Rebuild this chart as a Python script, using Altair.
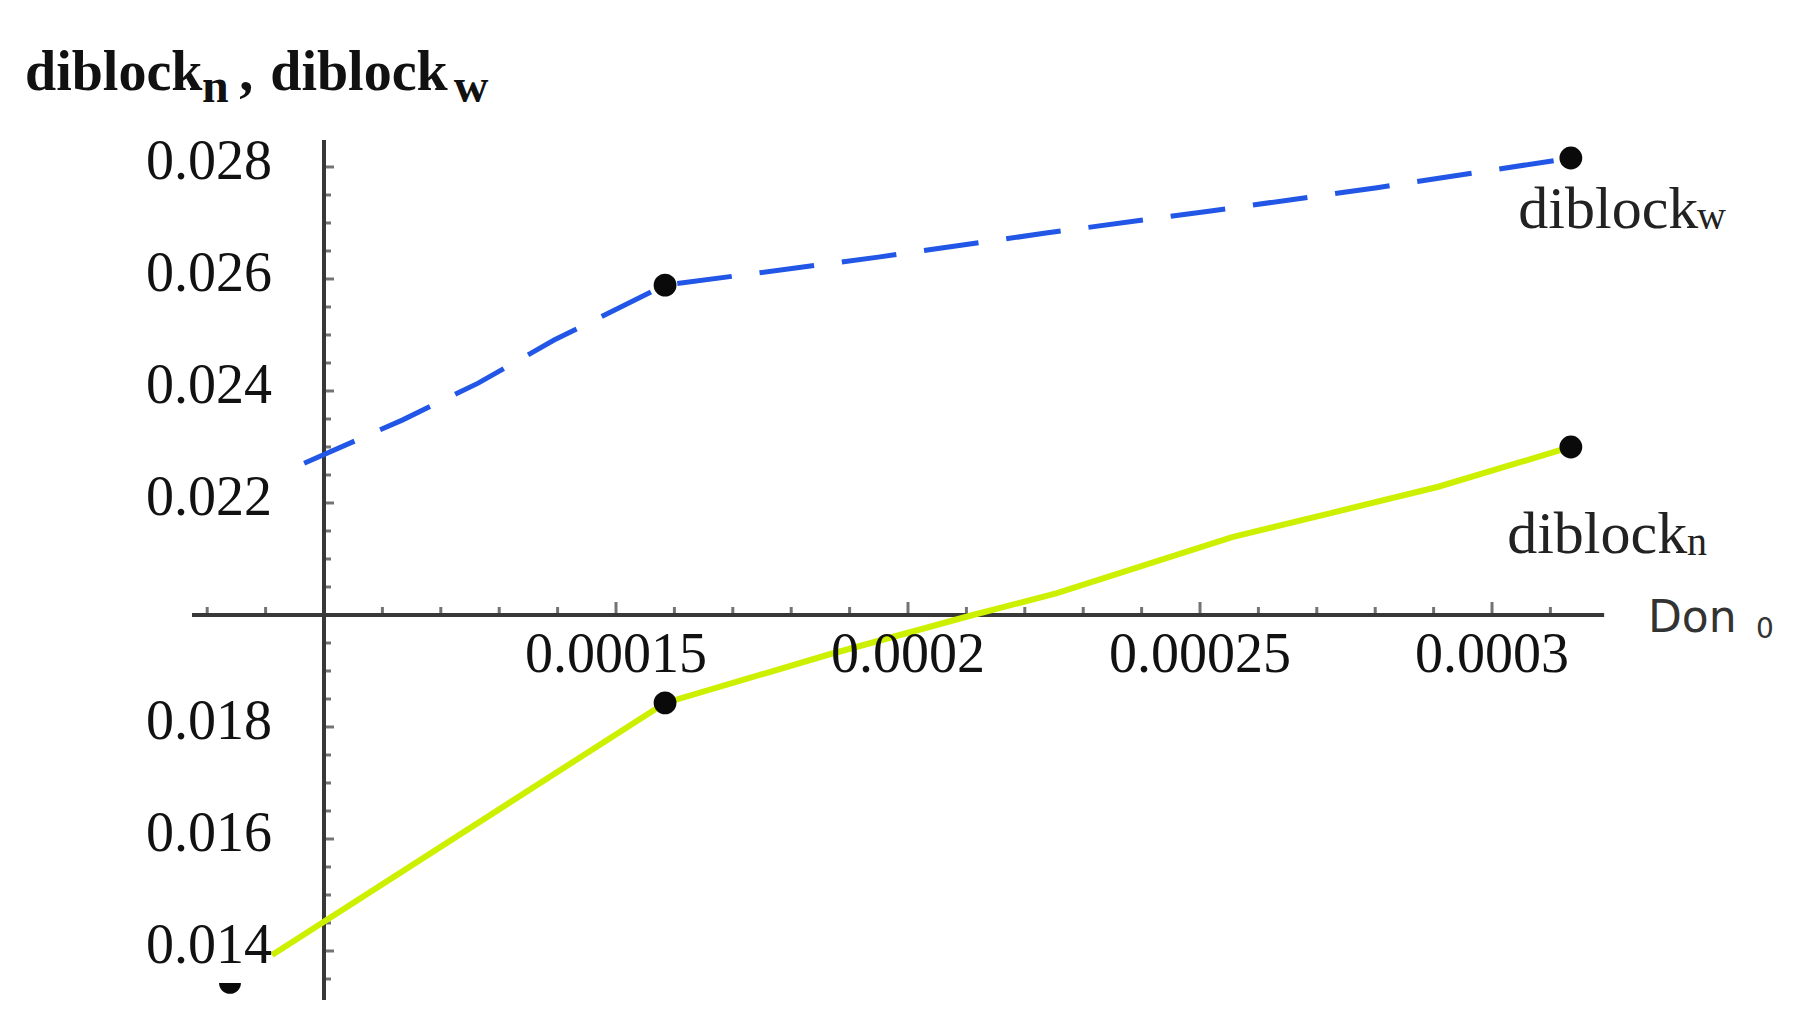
import altair as alt
import pandas as pd

# ---------------- data ----------------
# diblock_w (blue dashed curve)
w_x = [0.0000966, 0.0001134, 0.0001264, 0.0001394, 0.0001584, 0.0001949,
       0.0002236, 0.0002515, 0.0002803, 0.0003135]
w_y = [0.02271, 0.02348, 0.02414, 0.02491, 0.02589, 0.02639,
       0.02682, 0.02721, 0.02763, 0.02816]
# diblock_n (yellow-green curve)
n_x = [0.0000911, 0.0001584, 0.0001863, 0.0002111, 0.0002255, 0.0002555,
       0.0002724, 0.0002908, 0.0003135]
n_y = [0.01393, 0.01843, 0.01929, 0.02000, 0.02039, 0.02139,
       0.02182, 0.02229, 0.02300]
# black data dots
pt_x = [0.0001584, 0.0003135, 0.0001584, 0.0003135]
pt_y = [0.02589, 0.02816, 0.01843, 0.02300]
# partly hidden dot at the lower left
half_x = [0.0000839]
half_y = [0.01343]

# axes
x_tick_values = [0.00015, 0.0002, 0.00025, 0.0003]
x_tick_labels = ["0.00015", "0.0002", "0.00025", "0.0003"]
y_tick_values = [0.014, 0.016, 0.018, 0.022, 0.024, 0.026, 0.028]
y_tick_labels = ["0.014", "0.016", "0.018", "0.022", "0.024", "0.026", "0.028"]
x_minor = [k * 1e-5 for k in range(8, 32) if k % 5 != 0]
y_minor = [k * 0.0005 for k in range(27, 57) if k % 4 != 0 and k != 40]
y_major_marks = [k * 0.0005 for k in range(27, 57) if k % 4 == 0 and k != 40]
x_origin = 0.0001
y_origin = 0.02
x_axis_span = [0.0000774, 0.0003192]
y_axis_span = [0.013125, 0.02848]

# annotation texts (data-space anchors)
title_parts = ["diblock", "n", ",", "diblock", "w"]
title_x = [0.0000488, 0.0000791, 0.0000855, 0.0000908, 0.0001222]
title_y = [0.029375, 0.02916, 0.029375, 0.029375, 0.02916]
title_big = [True, False, True, True, False]

curve_lbl = ["diblock", "w", "diblock", "n"]
curve_lbl_x = [0.0003045, 0.0003351, 0.0003026, 0.0003334]
curve_lbl_y = [0.02691, 0.02689, 0.02111, 0.02107]
curve_lbl_big = [True, False, True, False]

xlab_parts = ["Don", "0"]
xlab_x = [0.0003267, 0.0003452]
xlab_y = [0.01970, 0.01959]
xlab_big = [True, False]

# ---------------- scales ----------------
X_DOMAIN = [0.00004589, 0.00034897]
Y_DOMAIN = [0.012982, 0.030839]
xsc = alt.Scale(domain=X_DOMAIN, nice=False, zero=False)
ysc = alt.Scale(domain=Y_DOMAIN, nice=False, zero=False)


def X(f="x"):
    return alt.X(f"{f}:Q", scale=xsc, axis=None)


def Y(f="y"):
    return alt.Y(f"{f}:Q", scale=ysc, axis=None)


AX = "#383838"
SERIF = "Liberation Serif"

# ---------------- axes ----------------
axes_df = pd.DataFrame({
    "x": [x_axis_span[0], x_origin], "x2": [x_axis_span[1], x_origin],
    "y": [y_origin, y_axis_span[0]], "y2": [y_origin, y_axis_span[1]],
})
axes = alt.Chart(axes_df).mark_rule(color=AX, strokeWidth=4).encode(
    x=X(), x2="x2:Q", y=Y(), y2="y2:Q")

xminor_df = pd.DataFrame({"x": x_minor, "y": [y_origin] * len(x_minor)})
xmajor_df = pd.DataFrame({"x": x_tick_values, "y": [y_origin] * len(x_tick_values),
                          "t": x_tick_labels})
yminor_df = pd.DataFrame({"y": y_minor, "x": [x_origin] * len(y_minor)})
ymajor_df = pd.DataFrame({"y": y_major_marks, "x": [x_origin] * len(y_major_marks)})
ylab_df = pd.DataFrame({"y": y_tick_values, "x": [x_origin] * len(y_tick_values),
                        "t": y_tick_labels})

xt_minor = alt.Chart(xminor_df).mark_tick(
    orient="vertical", size=8, thickness=3, yOffset=-4, color=AX).encode(x=X(), y=Y())
xt_major = alt.Chart(xmajor_df).mark_tick(
    orient="vertical", size=13, thickness=3, yOffset=-6.5, color=AX).encode(x=X(), y=Y())
yt_minor = alt.Chart(yminor_df).mark_tick(
    orient="horizontal", size=7, thickness=3, xOffset=3.5, color=AX).encode(x=X(), y=Y())
yt_major = alt.Chart(ymajor_df).mark_tick(
    orient="horizontal", size=10, thickness=3, xOffset=5, color=AX).encode(x=X(), y=Y())

xlabels = alt.Chart(xmajor_df).mark_text(
    font=SERIF, fontSize=56, color="#111", baseline="alphabetic", align="center", dy=57
).encode(x=X(), y=Y(), text="t:N")
ylabels = alt.Chart(ylab_df).mark_text(
    font=SERIF, fontSize=56, color="#111", baseline="middle", align="right", dx=-52, dy=-5
).encode(x=X(), y=Y(), text="t:N")

# ---------------- curves ----------------
w_df = pd.DataFrame({"x": w_x, "y": w_y, "i": range(len(w_x))})
n_df = pd.DataFrame({"x": n_x, "y": n_y, "i": range(len(n_x))})
line_w = alt.Chart(w_df).mark_line(
    color="#2156e6", strokeWidth=5, strokeDash=[55, 28]).encode(
    x=X(), y=Y(), order="i:Q")
line_n = alt.Chart(n_df).mark_line(
    color="#cdf000", strokeWidth=6).encode(x=X(), y=Y(), order="i:Q")

pts = alt.Chart(pd.DataFrame({"x": pt_x, "y": pt_y})).mark_point(
    filled=True, color="#0a0a0a", size=520, opacity=1, shape="circle").encode(x=X(), y=Y())
half = alt.Chart(pd.DataFrame({"x": half_x, "y": half_y})).mark_point(
    filled=True, color="#0a0a0a", size=480, opacity=1,
    shape="M -1 0 A 1 1 0 0 0 1 0 Z").encode(x=X(), y=Y())


# ---------------- annotation texts ----------------
def text_layer(parts, xs, ys, bigs, big_size, small_size, font, weight, color):
    df = pd.DataFrame({"t": parts, "x": xs, "y": ys, "big": bigs})
    big = alt.Chart(df[df.big]).mark_text(
        font=font, fontSize=big_size, fontWeight=weight, color=color,
        align="left", baseline="alphabetic").encode(x=X(), y=Y(), text="t:N")
    small = alt.Chart(df[~df.big]).mark_text(
        font=font, fontSize=small_size, fontWeight=weight, color=color,
        align="left", baseline="alphabetic").encode(x=X(), y=Y(), text="t:N")
    return big + small


title = text_layer(title_parts, title_x, title_y, title_big, 56, 48, SERIF, "bold", "#111")
curve_labels = text_layer(curve_lbl, curve_lbl_x, curve_lbl_y, curve_lbl_big, 60, 40,
                          SERIF, "normal", "#222")
xtitle = text_layer(xlab_parts, xlab_x, xlab_y, xlab_big, 44, 28, "DejaVu Sans",
                    "normal", "#333")

chart = alt.layer(
    axes, xt_minor, xt_major, yt_minor, yt_major,
    line_w, line_n, half, pts,
    xlabels, ylabels, title, curve_labels, xtitle,
).properties(
    width=1770, height=1000,
    autosize=alt.AutoSizeParams(type="none"),
    padding=0,
    background="white",
).configure_view(stroke=None)

chart.save("out.html", embed_options={"renderer": "svg", "actions": False})
